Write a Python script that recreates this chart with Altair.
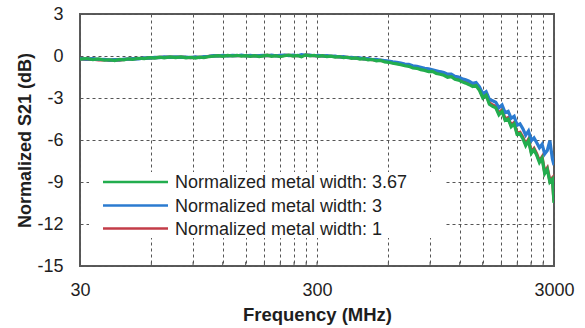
import altair as alt
import pandas as pd

freq_mhz = [30, 32, 34, 36, 38, 40, 42, 44, 46, 48,
            50, 53, 56, 59, 62, 65, 68, 72, 76, 80,
            84, 88, 92, 96, 100, 105, 110, 115, 120, 126,
            132, 138, 144, 150, 157, 164, 171, 178, 185, 193,
            201, 210, 219, 228, 238, 248, 258, 269, 280, 292,
            304, 317, 330, 344, 358, 373, 388, 404, 420, 437,
            455, 474, 493, 513, 534, 556, 579, 602, 626, 651,
            677, 704, 732, 761, 791, 822, 854, 887, 921, 956,
            992, 1029, 1067, 1106, 1146, 1187, 1229, 1272, 1316, 1361,
            1407, 1454, 1502, 1551, 1601, 1652, 1704, 1757, 1811, 1866,
            1922, 1979, 2037, 2096, 2156, 2217, 2279, 2342, 2406, 2471,
            2537, 2604, 2672, 2741, 2811, 2882, 2954, 3000]

s21_w367 = [-0.22, -0.18, -0.26, -0.21, -0.30, -0.27, -0.33, -0.24, -0.28, -0.20,
            -0.24, -0.16, -0.19, -0.12, -0.15, -0.08, -0.13, -0.06, -0.11, -0.07,
            -0.13, -0.09, -0.15, -0.08, -0.12, -0.04, -0.01, 0.03, -0.02, 0.04,
            0.00, 0.05, -0.01, 0.03, -0.03, 0.02, -0.04, 0.01, 0.06, -0.02,
            0.03, -0.05, 0.02, 0.07, -0.01, 0.04, -0.06, 0.08, 0.01, 0.05,
            -0.03, 0.02, -0.05, -0.01, -0.08, -0.04, -0.12, -0.09, -0.17, -0.14,
            -0.22, -0.19, -0.28, -0.25, -0.34, -0.31, -0.42, -0.45, -0.52, -0.56,
            -0.63, -0.70, -0.74, -0.86, -0.88, -0.97, -1.03, -1.12, -1.10, -1.25,
            -1.30, -1.38, -1.52, -1.48, -1.66, -1.72, -1.85, -1.94, -2.05, -2.18,
            -2.12, -2.45, -3.00, -2.80, -3.45, -3.60, -3.70, -4.20, -3.95, -4.60,
            -4.50, -5.05, -4.85, -5.60, -5.55, -5.90, -6.40, -6.05, -6.95, -6.70,
            -7.10, -7.60, -7.30, -8.40, -8.10, -9.00, -8.80, -10.50]

s21_w3 = [-0.18, -0.22, -0.19, -0.25, -0.24, -0.29, -0.26, -0.27, -0.22, -0.23,
          -0.19, -0.20, -0.14, -0.15, -0.10, -0.12, -0.07, -0.10, -0.06, -0.10,
          -0.08, -0.12, -0.07, -0.11, -0.05, -0.02, 0.02, 0.00, 0.05, 0.01,
          0.04, 0.02, 0.06, 0.01, 0.04, 0.00, 0.03, 0.05, 0.02, 0.06,
          0.01, 0.04, 0.07, 0.03, 0.06, 0.02, 0.09, 0.04, 0.07, 0.02,
          0.05, 0.00, 0.02, -0.03, -0.01, -0.07, -0.05, -0.11, -0.09, -0.15,
          -0.13, -0.20, -0.18, -0.25, -0.24, -0.30, -0.33, -0.36, -0.42, -0.45,
          -0.50, -0.58, -0.60, -0.70, -0.74, -0.80, -0.88, -0.92, -0.98, -1.05,
          -1.12, -1.18, -1.30, -1.30, -1.45, -1.50, -1.62, -1.70, -1.80, -1.95,
          -1.90, -2.20, -2.70, -2.55, -3.10, -3.20, -3.30, -3.70, -3.50, -4.05,
          -3.95, -4.45, -4.30, -4.95, -4.85, -5.20, -5.65, -5.35, -6.05, -5.85,
          -6.20, -6.55, -6.30, -7.00, -6.75, -6.05, -7.35, -7.80]

s21_w1 = [-0.20, -0.24, -0.22, -0.27, -0.26, -0.31, -0.28, -0.30, -0.25, -0.22,
          -0.21, -0.18, -0.16, -0.14, -0.12, -0.10, -0.10, -0.08, -0.09, -0.08,
          -0.10, -0.11, -0.10, -0.09, -0.08, -0.03, 0.00, 0.01, 0.02, 0.02,
          0.02, 0.03, 0.03, 0.02, 0.01, 0.01, 0.00, 0.03, 0.04, 0.02,
          0.02, 0.00, 0.04, 0.05, 0.03, 0.03, 0.02, 0.06, 0.04, 0.03,
          0.01, 0.01, -0.02, -0.02, -0.05, -0.06, -0.09, -0.10, -0.13, -0.15,
          -0.18, -0.20, -0.23, -0.26, -0.29, -0.31, -0.37, -0.41, -0.47, -0.51,
          -0.57, -0.64, -0.67, -0.78, -0.81, -0.89, -0.96, -1.02, -1.04, -1.15,
          -1.22, -1.30, -1.43, -1.40, -1.57, -1.63, -1.76, -1.85, -1.95, -2.08,
          -2.02, -2.35, -2.90, -2.70, -3.35, -3.50, -3.60, -4.10, -3.85, -4.50,
          -4.40, -4.95, -4.75, -5.50, -5.45, -5.80, -6.30, -5.95, -6.85, -6.60,
          -7.00, -7.50, -7.20, -8.30, -8.00, -8.90, -8.70, -10.40]

series_names = ["Normalized metal width: 3.67",
                "Normalized metal width: 3",
                "Normalized metal width: 1"]
series_colors = ["#22ad4e", "#2b7bd0", "#c33c48"]

x_ticks = [30, 60, 90, 120, 150, 180, 210, 240, 270, 300,
           600, 900, 1200, 1500, 1800, 2100, 2400, 2700, 3000]
x_labels = [30, 300, 3000]
y_ticks = [-15, -12, -9, -6, -3, 0, 3]

rows = []
for name, vals in zip(series_names, [s21_w367, s21_w3, s21_w1]):
    for f, v in zip(freq_mhz, vals):
        rows.append({"freq": f, "s21": v, "series": name})
df = pd.DataFrame(rows)

FONT = "Liberation Sans"
TXT = "#1e1e1e"
GRID = "#555555"
label_test = " || ".join(f"datum.value == {v}" for v in x_labels)

x_enc = alt.X(
    "freq:Q",
    scale=alt.Scale(type="log", domain=[30, 3000], nice=False),
    axis=alt.Axis(
        values=x_ticks,
        labelExpr=f"({label_test}) ? '' + datum.value : ''",
        grid=True, gridDash=[3, 3], gridColor=GRID, gridWidth=1,
        ticks=False, domain=False, labelPadding=15,
        labelFlush=False, labelOverlap=False,
        labelFontSize=18, labelFont=FONT, labelColor=TXT,
        title="Frequency (MHz)", titleFontSize=18.5, titleFont=FONT,
        titleFontWeight="bold", titleColor=TXT,
        titleY=54, titleBaseline="alphabetic",
    ),
)
y_enc = alt.Y(
    "s21:Q",
    scale=alt.Scale(domain=[-15, 3], nice=False, zero=False),
    axis=alt.Axis(
        values=y_ticks, labelExpr="'' + datum.value",
        grid=True, gridDash=[3, 3], gridColor=GRID, gridWidth=1,
        ticks=False, domain=False, labelPadding=17,
        labelFlush=False, labelOverlap=False,
        labelFontSize=18, labelFont=FONT, labelColor=TXT,
        title="Normalized S21 (dB)", titleFontSize=18, titleFont=FONT,
        titleFontWeight="bold", titleColor=TXT,
        titleX=-55, titleY=126, titleAngle=-90,
        titleAlign="center", titleBaseline="middle",
    ),
)

color_enc = alt.Color(
    "series:N",
    scale=alt.Scale(domain=series_names, range=series_colors),
    legend=None,
)

layers = []
for name in reversed(series_names):
    layers.append(
        alt.Chart(df)
        .transform_filter(alt.datum.series == name)
        .mark_line(strokeWidth=3.2, clip=True)
        .encode(x=x_enc, y=y_enc, color=color_enc)
    )

tick_df = pd.DataFrame({"freq": x_ticks})
inner_ticks = (
    alt.Chart(tick_df)
    .mark_rule(color=GRID, strokeWidth=1)
    .encode(x=alt.X("freq:Q"), y=alt.datum(-15), y2=alt.datum(-14.7))
)

# In-plot legend (white box, line samples and labels)
legend_bg = (
    alt.Chart(pd.DataFrame({"k": [0]}))
    .mark_rect(fill="white")
    .encode(x=alt.value(9), x2=alt.value(366), y=alt.value(158), y2=alt.value(224))
)
legend_layers = [legend_bg]
row_y = [168, 191.5, 214.5]
for name, col, yy in zip(series_names, series_colors, row_y):
    one = pd.DataFrame({"label": [name]})
    legend_layers.append(
        alt.Chart(one).mark_rule(color=col, strokeWidth=2.6)
        .encode(x=alt.value(23), x2=alt.value(88), y=alt.value(yy))
    )
    legend_layers.append(
        alt.Chart(one).mark_text(align="left", baseline="middle", font=FONT,
                                 fontSize=18, color=TXT)
        .encode(text="label:N", x=alt.value(95), y=alt.value(yy + 1))
    )

chart = (
    alt.layer(*layers, inner_ticks, *legend_layers)
    .properties(width=474, height=252,
                autosize=alt.AutoSizeParams(type="none"),
                padding={"left": 80, "top": 14, "right": 31, "bottom": 62},
                background="white")
    .configure_view(stroke="#5a5a5a", strokeWidth=2)
)

chart.save("out.html", embed_options={"renderer": "svg", "actions": False})
